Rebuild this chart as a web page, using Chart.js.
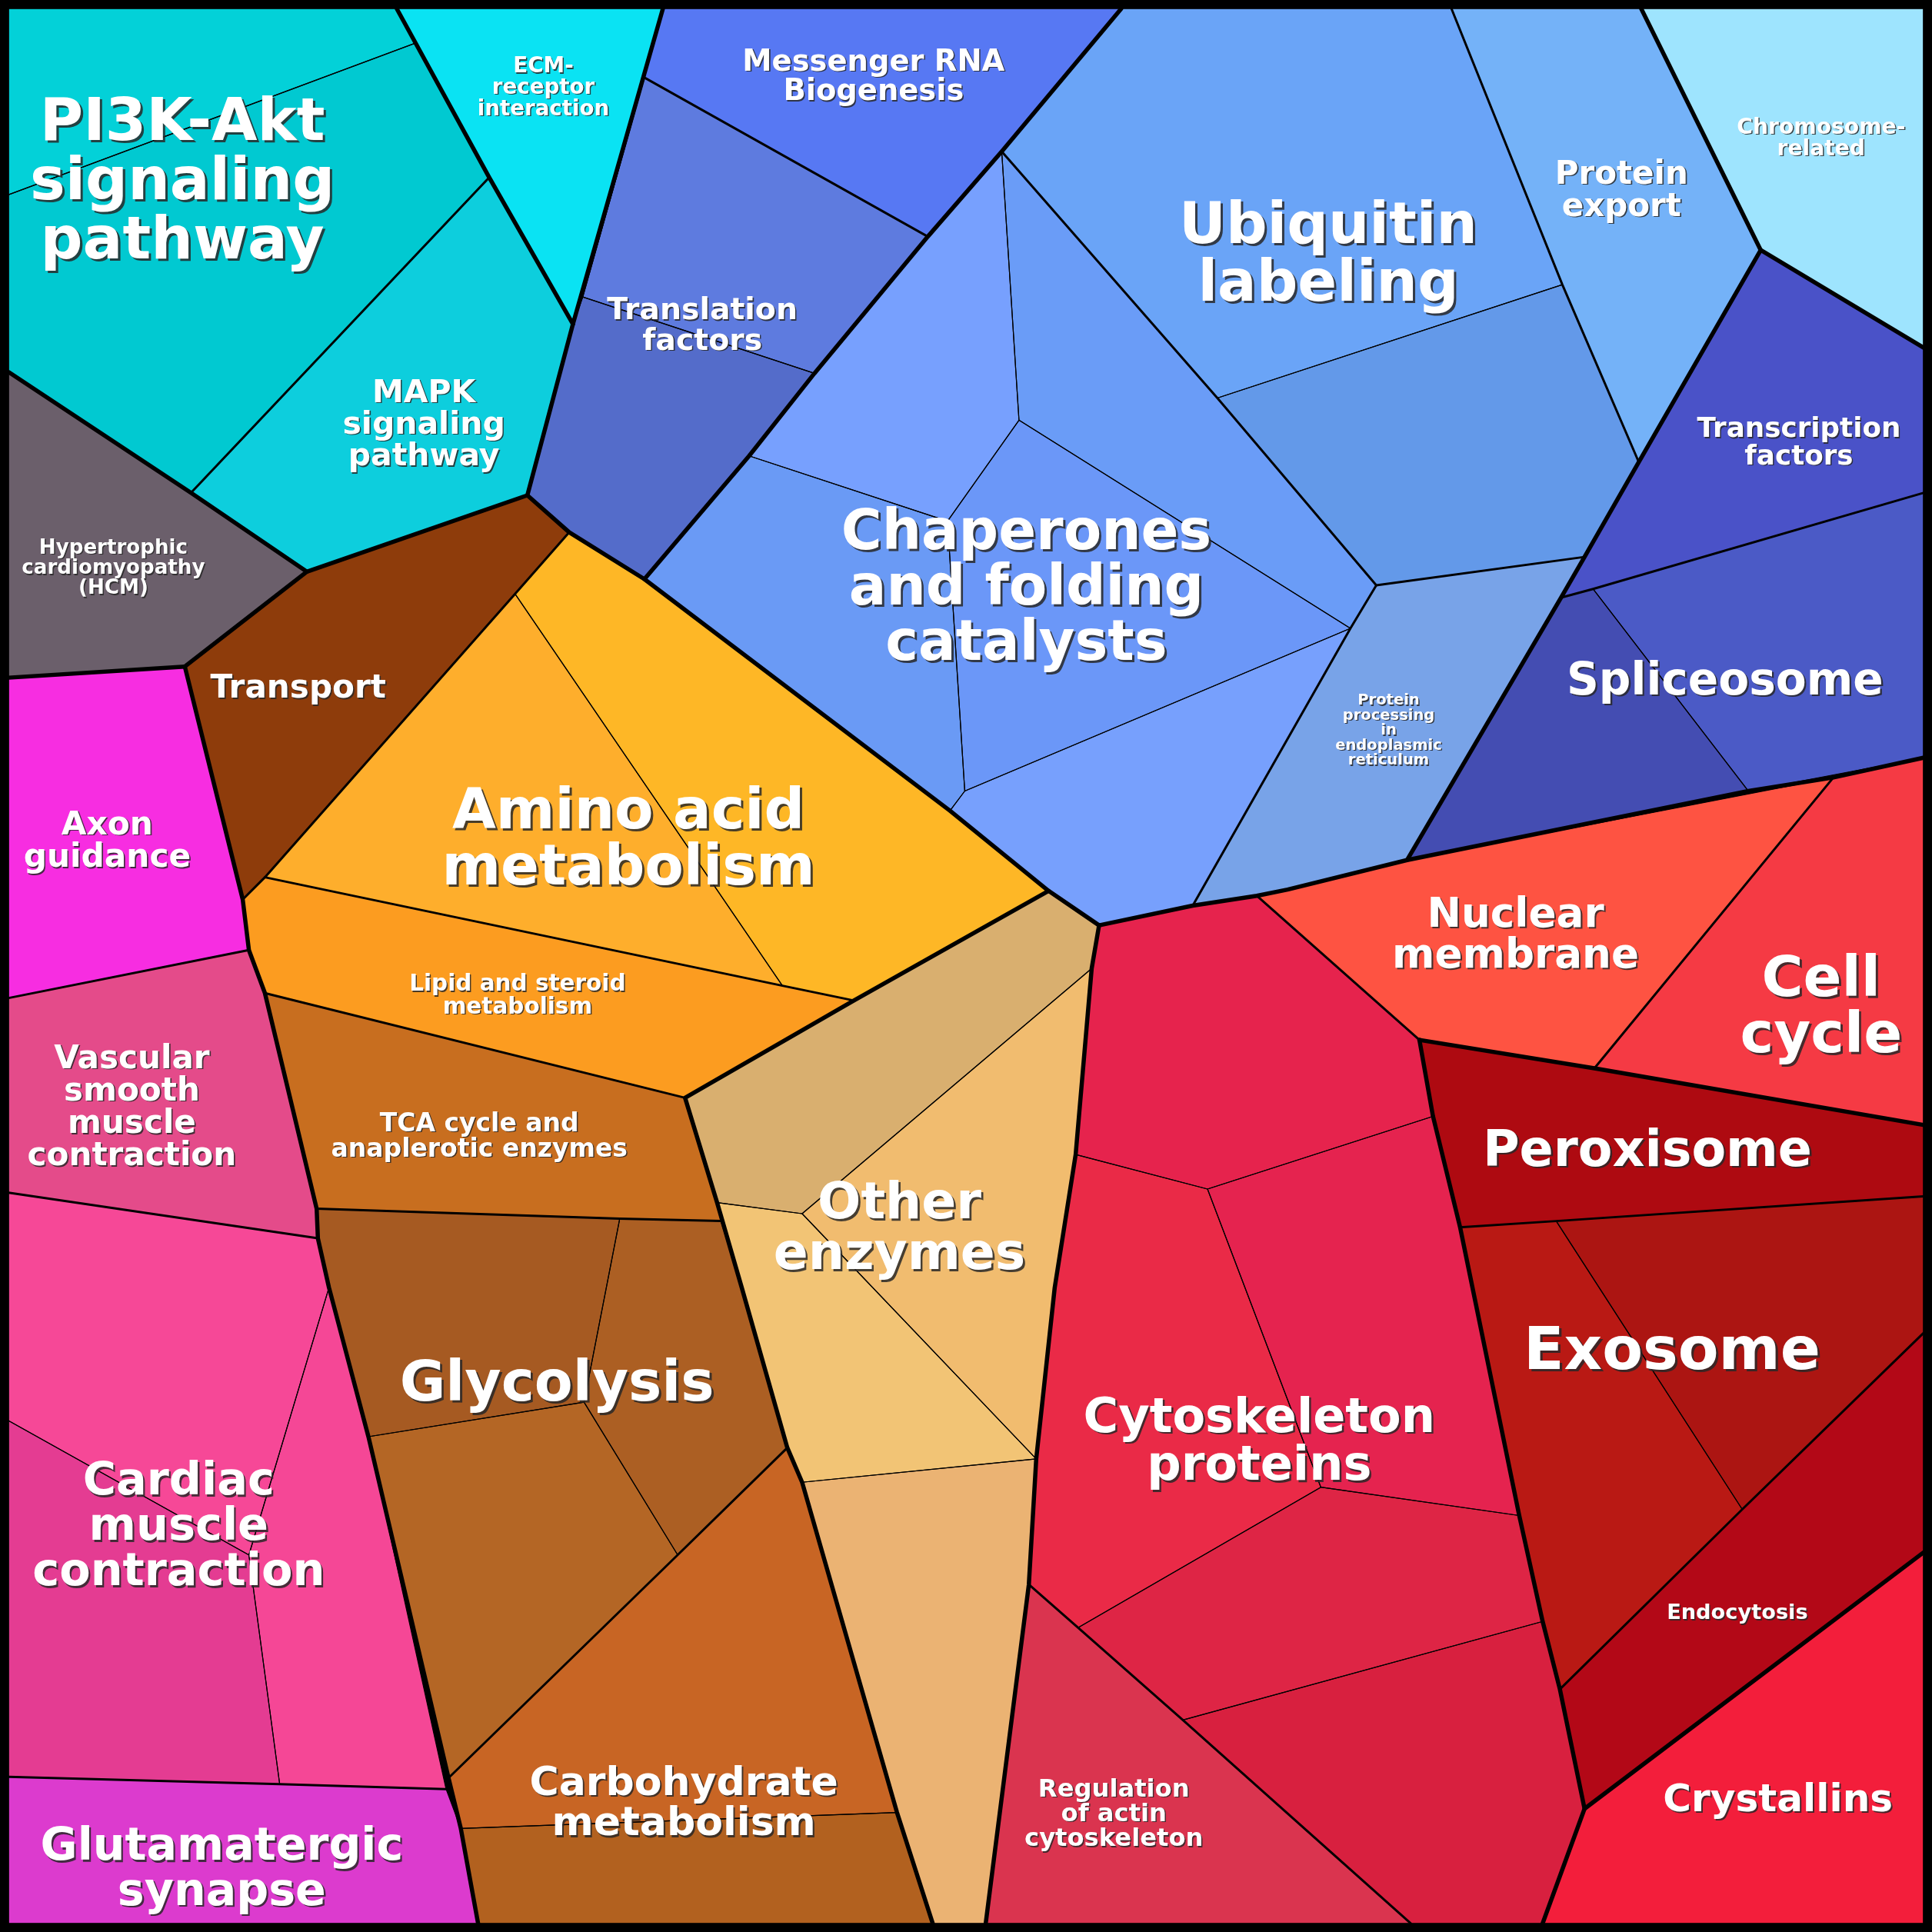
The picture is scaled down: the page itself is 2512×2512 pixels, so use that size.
<!DOCTYPE html>
<html>
<head>
<meta charset="utf-8">
<script src="https://cdn.jsdelivr.net/npm/chart.js@4.4.1/dist/chart.umd.min.js"></script>
<style>
  html, body { margin: 0; padding: 0; background: #000; }
  canvas { display: block; }
</style>
</head>
<body>
<canvas id="voronoi" width="2512" height="2512"></canvas>
<script>
// label text of every category (line breaks as drawn)
const categories = [
  "PI3K-Akt\nsignaling\npathway", "MAPK\nsignaling\npathway", "ECM-\nreceptor\ninteraction",
  "Hypertrophic\ncardiomyopathy\n(HCM)", "Transport", "Axon\nguidance",
  "Vascular\nsmooth\nmuscle\ncontraction", "Cardiac\nmuscle\ncontraction", "Glutamatergic\nsynapse",
  "Amino acid\nmetabolism", "Lipid and steroid\nmetabolism", "TCA cycle and\nanaplerotic enzymes",
  "Glycolysis", "Carbohydrate\nmetabolism", "Other\nenzymes",
  "Messenger RNA\nBiogenesis", "Translation\nfactors", "Chaperones\nand folding\ncatalysts",
  "Ubiquitin\nlabeling", "Protein\nexport", "Chromosome-\nrelated",
  "Transcription\nfactors", "Spliceosome", "Protein\nprocessing\nin\nendoplasmic\nreticulum",
  "Nuclear\nmembrane", "Cell\ncycle", "Peroxisome",
  "Exosome", "Endocytosis", "Crystallins",
  "Cytoskeleton\nproteins", "Regulation\nof actin\ncytoskeleton"
];

// which category each voronoi cell belongs to
const cellCategory = [
  0, 0, 1, 2, 3, 4, 5, 6, 7, 7, 7, 8,
  9, 9, 10, 11, 12, 12, 12, 13, 13, 14, 14, 14, 14,
  15, 16, 16, 17, 17, 17, 17, 17, 18, 18, 19, 20, 21, 22, 22, 23,
  24, 25, 26, 27, 27, 28, 29, 30, 30, 30, 30, 30, 31
];

// cell outlines (map units, 0-1568)
const cellVertices = [
  [[7,7],[322,7],[337,35],[7,158]],
  [[7,158],[337,35],[397,144],[155,400],[7,302]],
  [[397,144],[465,263],[428,402],[249,464],[155,400]],
  [[322,7],[538,7],[523,63],[473,241],[465,263],[397,144]],
  [[7,302],[155,400],[249,464],[150,541],[7,550]],
  [[249,464],[428,402],[462,432],[418,482],[215,712],[197,730],[150,541]],
  [[7,550],[150,541],[197,730],[202,771],[7,810]],
  [[7,810],[202,771],[215,806],[257,981],[258,1005],[7,968]],
  [[7,968],[258,1005],[267,1045],[202,1262],[7,1153]],
  [[267,1045],[299,1166],[362,1452],[227,1448],[202,1262]],
  [[7,1153],[202,1262],[227,1448],[7,1442]],
  [[7,1442],[227,1448],[362,1452],[374,1484],[388,1561],[7,1561]],
  [[418,482],[635,800],[215,712]],
  [[462,432],[523,470],[771,658],[851,723],[693,812],[635,800],[418,482]],
  [[197,730],[215,712],[635,800],[693,812],[556,891],[215,806],[202,771]],
  [[215,806],[556,891],[582,976],[585,991],[503,989],[257,981]],
  [[257,981],[503,989],[474,1138],[299,1166],[267,1045],[258,1005]],
  [[503,989],[585,991],[602,1045],[639,1175],[550,1262],[474,1138]],
  [[299,1166],[474,1138],[550,1262],[364,1443]],
  [[364,1443],[550,1262],[639,1175],[651,1203],[728,1471],[374,1484]],
  [[374,1484],[728,1471],[757,1561],[388,1561]],
  [[851,723],[892,751],[886,786],[651,985],[582,976],[556,891],[693,812]],
  [[886,786],[873,937],[856,1045],[841,1184],[651,985]],
  [[582,976],[651,985],[841,1184],[651,1203],[639,1175],[602,1045]],
  [[651,1203],[841,1184],[835,1286],[800,1561],[757,1561],[728,1471]],
  [[538,7],[910,7],[813,123],[753,192],[523,63]],
  [[523,63],[753,192],[661,303],[473,241]],
  [[473,241],[661,303],[608,370],[523,470],[462,432],[428,402],[465,263]],
  [[813,123],[827,341],[769,423],[608,370],[661,303],[753,192]],
  [[813,123],[988,323],[1117,475],[1096,510],[827,341]],
  [[827,341],[1096,510],[783,642],[769,423]],
  [[608,370],[769,423],[783,642],[771,658],[523,470]],
  [[783,642],[1096,510],[968,735],[892,751],[851,723],[771,658]],
  [[910,7],[1178,7],[1268,231],[988,323],[813,123]],
  [[988,323],[1268,231],[1330,375],[1286,452],[1117,475]],
  [[1178,7],[1332,7],[1429,203],[1330,375],[1268,231]],
  [[1332,7],[1561,7],[1561,282],[1429,203]],
  [[1429,203],[1561,282],[1561,400],[1293,478],[1267,485],[1286,452],[1330,375]],
  [[1267,485],[1293,478],[1419,642],[1142,698]],
  [[1293,478],[1561,400],[1561,615],[1419,642]],
  [[1117,475],[1286,452],[1267,485],[1142,698],[1045,722],[968,735],[1096,510]],
  [[1020,727],[1045,722],[1142,698],[1488,631],[1294,867],[1152,844]],
  [[1488,631],[1561,615],[1561,913],[1294,867]],
  [[1152,844],[1294,867],[1561,913],[1561,971],[1263,991],[1185,996],[1163,906]],
  [[1185,996],[1263,991],[1414,1225],[1266,1371],[1252,1316],[1233,1230]],
  [[1263,991],[1561,971],[1561,1082],[1414,1225]],
  [[1266,1371],[1414,1225],[1561,1082],[1561,1260],[1286,1468]],
  [[1286,1468],[1561,1260],[1561,1561],[1252,1561]],
  [[892,751],[968,735],[1020,727],[1152,844],[1163,906],[980,965],[873,937],[886,786]],
  [[873,937],[980,965],[1072,1207],[875,1321],[835,1286],[841,1184],[856,1045]],
  [[980,965],[1163,906],[1185,996],[1233,1230],[1072,1207]],
  [[1072,1207],[1233,1230],[1252,1316],[960,1396],[875,1321]],
  [[960,1396],[1252,1316],[1266,1371],[1286,1468],[1252,1561],[1145,1561]],
  [[835,1286],[875,1321],[960,1396],[1145,1561],[800,1561]]
];

// group borders (top level) and category borders
const groupBorders = [
  [[538,7],[465,263],[428,402]],
  [[322,7],[397,144],[465,263]],
  [[7,302],[155,400],[249,464],[428,402]],
  [[249,464],[150,541]],
  [[7,550],[150,541]],
  [[150,541],[197,730],[202,771],[215,806],[257,981],[258,1005],[267,1045],[299,1166],[364,1443],[374,1484],[388,1561]],
  [[428,402],[462,432],[523,470],[771,658],[851,723],[892,751]],
  [[910,7],[813,123],[753,192],[661,303],[608,370],[523,470]],
  [[851,723],[693,812],[556,891],[582,976],[602,1045],[639,1175],[651,1203],[728,1471],[757,1561]],
  [[892,751],[886,786],[873,937],[856,1045],[841,1184],[835,1286],[800,1561]],
  [[892,751],[968,735],[1020,727],[1045,722],[1142,698],[1419,642],[1488,631],[1561,615]],
  [[1332,7],[1429,203],[1561,282]],
  [[1429,203],[1330,375],[1286,452],[1267,485],[1142,698]],
  [[1152,844],[1163,906],[1185,996],[1233,1230],[1252,1316],[1266,1371],[1286,1468],[1252,1561]],
  [[1152,844],[1294,867],[1561,913]],
  [[1286,1468],[1561,1260]]
];
const categoryBorders = [
  [[397,144],[155,400]],
  [[523,63],[753,192]],
  [[813,123],[988,323],[1117,475],[1286,452]],
  [[1117,475],[1096,510],[968,735]],
  [[1178,7],[1268,231],[1330,375]],
  [[1561,400],[1293,478],[1267,485]],
  [[462,432],[418,482],[215,712],[197,730]],
  [[215,712],[635,800],[693,812]],
  [[215,806],[556,891]],
  [[257,981],[503,989],[585,991]],
  [[639,1175],[550,1262],[364,1443]],
  [[7,810],[202,771]],
  [[7,968],[258,1005]],
  [[7,1442],[227,1448],[362,1452]],
  [[1020,727],[1152,844]],
  [[1488,631],[1294,867]],
  [[1185,996],[1263,991],[1561,971]],
  [[1266,1371],[1414,1225],[1561,1082]],
  [[835,1286],[875,1321],[960,1396],[1145,1561]]
];

// styles
const cellColors = [
  "#03d1d8", "#01c9d1", "#0dcedd", "#0ae3f3", "#6b5f6b", "#8e3c0b", "#f72de1", "#e44b8a",
  "#f64897", "#f54796", "#e43c92", "#dc3bce",
  "#feae2c", "#feb726", "#fc9c20", "#c86e1f", "#a65a22", "#ac5f23", "#b46625", "#c86524", "#b2611f",
  "#d9af6f", "#f1bc6f", "#f2c475", "#ebb373",
  "#5778f3", "#5e7bdf", "#546cca", "#77a0fe", "#6a9cf7", "#6b97f8", "#6a9af5", "#77a0fd",
  "#6aa4f7", "#6399e9", "#74b2f8", "#9ee4fe", "#4a52c8", "#444db2", "#4b5ac6", "#78a3e8",
  "#fe5342", "#f53a44", "#ae0a11", "#b91914", "#ac1512", "#b30817", "#f31e3b",
  "#e6234d", "#ea2a47", "#e5234f", "#de2545", "#d8203f", "#da344f"
];

// label placement (map units) and font sizes
const labelAnchor = [
  [148,145], [344,343], [441,70], [92,460], [242,557], [87,681], [107,897], [145,1237],
  [180,1515], [510,679], [420,807], [389,921], [452,1121], [555,1462], [730,995],
  [709,61], [570,263], [833,475], [1078,204], [1316,153], [1478,111], [1460,358],
  [1400,551], [1127,592], [1230,757], [1478,815], [1337,932], [1357,1094], [1410,1308],
  [1443,1459], [1022,1168], [904,1471]
];
const labelSize = [
  48, 25.6, 17.3, 16.3, 26.3, 26.4, 26.3, 36.8, 36.6, 45.9, 18.4, 20.6, 45.4, 32.5, 41.4,
  24, 24.6, 45, 46.8, 26.2, 17.6, 22.3, 36.3, 12.2, 33.2, 46, 40.6, 48, 17, 31.3, 38.8, 20.1
];

const MAP = 1568;
const toPoints = (v, close) => (close ? v.concat([v[0]]) : v).map(([x, y]) => ({ x, y }));

const datasets = [];
cellVertices.forEach((v, i) => {
  datasets.push({
    label: categories[cellCategory[i]],
    data: toPoints(v, true),
    isCell: true,
    backgroundColor: cellColors[i],
    borderColor: "#000",
    borderWidth: 1.2,
    order: 3
  });
});
categoryBorders.forEach((v) => {
  datasets.push({ data: toPoints(v), borderColor: "#000", borderWidth: 3, order: 2 });
});
groupBorders.forEach((v) => {
  datasets.push({ data: toPoints(v), borderColor: "#000", borderWidth: 5.5, order: 1 });
});

const cellFill = {
  id: "cellFill",
  beforeDatasetsDraw(chart) {
    const ctx = chart.ctx;
    chart.data.datasets.forEach((ds, i) => {
      if (!ds.isCell) return;
      const pts = chart.getDatasetMeta(i).data;
      ctx.save();
      ctx.beginPath();
      pts.forEach((p, k) => (k ? ctx.lineTo(p.x, p.y) : ctx.moveTo(p.x, p.y)));
      ctx.closePath();
      ctx.fillStyle = ds.backgroundColor;
      ctx.fill();
      ctx.restore();
    });
  }
};

const cellLabels = {
  id: "cellLabels",
  afterDatasetsDraw(chart) {
    const { ctx, scales, chartArea } = chart;
    const k = (chartArea.right - chartArea.left) / MAP;
    ctx.save();
    ctx.textAlign = "center";
    ctx.textBaseline = "alphabetic";
    categories.forEach((name, i) => {
      const lines = name.split("\n");
      const fs = labelSize[i] * k;
      const lh = fs * 1.0;
      const cx = scales.x.getPixelForValue(labelAnchor[i][0]);
      const cy = scales.y.getPixelForValue(labelAnchor[i][1]);
      const sh = Math.max(1.5, fs * 0.04);
      ctx.font = "bold " + fs + "px 'DejaVu Sans'";
      lines.forEach((t, j) => {
        const y = cy + (j - (lines.length - 1) / 2) * lh + 0.35 * fs;
        ctx.fillStyle = "rgba(40,40,40,0.85)";
        ctx.fillText(t, cx + sh, y + sh);
        ctx.fillStyle = "#fff";
        ctx.fillText(t, cx, y);
      });
    });
    ctx.restore();
  }
};

new Chart(document.getElementById("voronoi").getContext("2d"), {
  type: "scatter",
  data: { datasets },
  options: {
    responsive: false,
    devicePixelRatio: 1,
    animation: false,
    events: [],
    showLine: true,
    layout: { padding: 0 },
    elements: {
      point: { radius: 0, hoverRadius: 0 },
      line: { tension: 0, fill: false, borderJoinStyle: "round", borderCapStyle: "round" }
    },
    scales: {
      x: { type: "linear", min: 0, max: MAP, display: false },
      y: { type: "linear", min: 0, max: MAP, reverse: true, display: false }
    },
    plugins: {
      legend: { display: false },
      tooltip: { enabled: false }
    }
  },
  plugins: [cellFill, cellLabels]
});
</script>
</body>
</html>
